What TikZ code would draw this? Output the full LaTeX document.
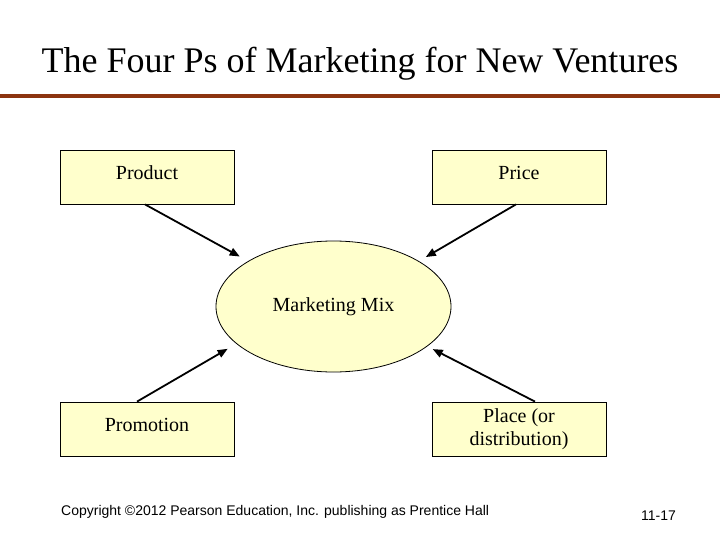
\documentclass[tikz,border=0pt]{standalone}
\usepackage{fontspec}
\setmainfont{Liberation Serif}
\newfontfamily\arialfont{Liberation Sans}
\usetikzlibrary{shapes.geometric,arrows.meta,calc}
\definecolor{boxfill}{RGB}{255,255,204}
\definecolor{rulebrown}{RGB}{140,52,16}
\tikzset{
  pbox/.style={draw=black,line width=0.8pt,fill=boxfill,minimum width=174pt,minimum height=54pt,inner sep=0pt,align=center,font=\fontsize{20}{23}\selectfont},
  ptext/.style={text height=14pt,text depth=9pt},
  mixnode/.style={draw=black,line width=0.8pt,fill=boxfill,ellipse,minimum width=235pt,minimum height=131pt,inner sep=0pt,font=\fontsize{20}{23}\selectfont},
  parrow/.style={line width=1.8pt,-{Triangle[length=10pt,width=8pt]}}
}
\begin{document}
\begin{tikzpicture}[x=1pt,y=-1pt]
\useasboundingbox[fill=white] (0,0) rectangle (720,540);
\node[font=\fontsize{36}{40}\selectfont,anchor=base] (title) at (360,73) {The Four Ps of Marketing for New Ventures};
\fill[rulebrown] (0,94) rectangle (720,98);
\node[pbox,ptext] (prod) at (147,177) {Product};
\node[pbox,ptext] (price) at (519,177) {Price};
\node[pbox,ptext] (promo) at (147,429) {Promotion};
\node[pbox] (place) at (519,429) {Place (or\\distribution)};
\node[mixnode] (mix) at (333.5,306.5) {Marketing Mix};
\draw[parrow,shorten >=9.5pt] ($(prod.south)+(-2,0)$) -- (mix.152);
\draw[parrow,shorten >=8pt] ($(price.south)+(-3,0)$) -- (mix.28.4);
\draw[parrow,shorten >=10pt] ($(promo.north)+(-10,0)$) -- (mix.201.5);
\draw[parrow,shorten >=6pt] ($(place.north)+(16,0)$) -- (mix.-23.3);
\node[font=\arialfont\fontsize{14}{16}\selectfont,anchor=base west,inner sep=0pt] (copy) at (61,515) {Copyright ©2012 Pearson Education, Inc. publishing as Prentice Hall};
\node[font=\arialfont\fontsize{14}{16}\selectfont,anchor=base west,inner sep=0pt] (pageno) at (641,520) {11-17};
\end{tikzpicture}
\end{document}
